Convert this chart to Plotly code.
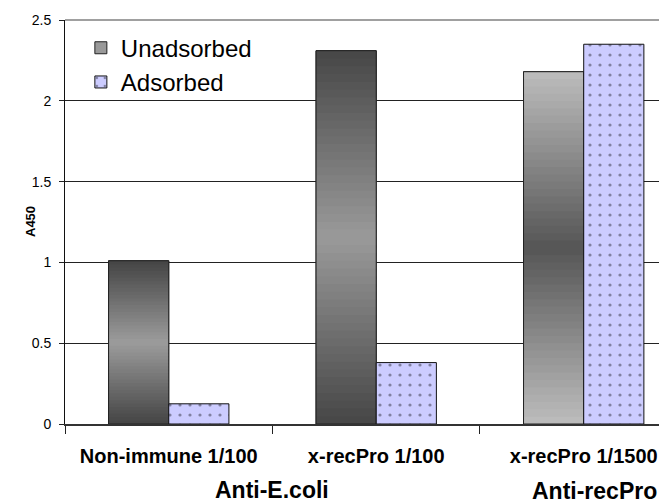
import plotly.graph_objects as go

# ---- data ----
categories = ["Non-immune 1/100", "x-recPro 1/100", "x-recPro 1/1500"]
unadsorbed = [1.01, 2.31, 2.18]
adsorbed = [0.125, 0.38, 2.35]
series_names = ["Unadsorbed", "Adsorbed"]
group_labels = ["Anti-E.coli", "Anti-recPro"]
y_title = "A450"
y_ticks = [0, 0.5, 1, 1.5, 2, 2.5]

# ---- styles ----
FONT = "Liberation Sans, Arial, sans-serif"
edge_colors = [(0x44, 0x44, 0x44), (0x46, 0x46, 0x46), (0xbd, 0xbd, 0xbd)]
mid_colors = [(0x9c, 0x9c, 0x9c), (0x9a, 0x9a, 0x9a), (0x55, 0x55, 0x55)]
N_SEG = 48


def mix(c1, c2, t):
    return "rgb(%d,%d,%d)" % tuple(round(a + (b - a) * t) for a, b in zip(c1, c2))


fig = go.Figure()

# legend / base trace for Unadsorbed
fig.add_trace(go.Bar(
    x=categories, y=unadsorbed, name=series_names[0], offsetgroup="u",
    legendgroup="u",
    marker=dict(color="#999999", line=dict(color="#222222", width=1)),
))

# gradient fill: split each Unadsorbed bar into thin slices
seg_x, seg_y, seg_base, seg_col = [], [], [], []
for ci, (cat, v) in enumerate(zip(categories, unadsorbed)):
    for i in range(N_SEG):
        t = abs((i + 0.5) - N_SEG / 2) / (N_SEG / 2)
        seg_x.append(cat)
        seg_y.append(v / N_SEG * 1.6 if i < N_SEG - 1 else v / N_SEG)
        seg_base.append(v * i / N_SEG)
        seg_col.append(mix(mid_colors[ci], edge_colors[ci], t))
fig.add_trace(go.Bar(
    x=seg_x, y=seg_y, base=seg_base, offsetgroup="u", showlegend=False,
    hoverinfo="skip", marker=dict(color=seg_col, line=dict(width=0)),
))

# outline on top
fig.add_trace(go.Bar(
    x=categories, y=unadsorbed, offsetgroup="u", showlegend=False,
    hoverinfo="skip",
    marker=dict(color="rgba(0,0,0,0)", line=dict(color="#222222", width=1)),
))

fig.add_trace(go.Bar(
    x=categories, y=adsorbed, name=series_names[1], offsetgroup="a",
    legendgroup="a",
    marker=dict(color="#ccccff", line=dict(color="#111111", width=1),
                pattern=dict(shape=".", fgcolor="#333344", bgcolor="#ccccff",
                             size=10, solidity=0.08, fillmode="overlay")),
))

fig.update_layout(
    width=667, height=503,
    margin=dict(l=57, r=0, t=12, b=87),
    paper_bgcolor="white", plot_bgcolor="white",
    barmode="group", bargap=0.42, bargroupgap=0,
    font=dict(family=FONT, color="black"),
    showlegend=True,
    legend=dict(x=0.026, y=0.986, xanchor="left", yanchor="top",
                bgcolor="rgba(0,0,0,0)", font=dict(size=24, color="black"),
                traceorder="grouped", tracegroupgap=0),
    xaxis=dict(
        range=[-0.5, 2.44], type="category",
        tickson="boundaries", ticks="outside", ticklen=8, tickcolor="#222",
        showline=True, linecolor="#333333", linewidth=1.5,
        showgrid=False, ticklabelstandoff=13,
        tickfont=dict(size=20, weight="bold", color="black"),
    ),
    yaxis=dict(
        range=[0, 2.5], tickvals=y_ticks, ticktext=[f"{v:g}" for v in y_ticks],
        ticks="outside", ticklen=5, tickcolor="#222",
        showline=True, linecolor="#111111", linewidth=1,
        showgrid=True, gridcolor="#222222", gridwidth=1, zeroline=False,
        tickfont=dict(size=14, color="black"), ticklabelstandoff=5,
    ),
    shapes=[dict(type="line", xref="paper", yref="paper", x0=0, x1=1, y0=1, y1=1,
                 line=dict(color="#808080", width=1.5), layer="above")],
    annotations=[
        dict(text=y_title, textangle=-90, xref="paper", x=0, xshift=-35,
             xanchor="center", yref="paper", y=0.5, yanchor="middle",
             showarrow=False,
             font=dict(size=13, weight="bold", color="black")),
        dict(text=group_labels[0], xref="x", x=0.5, yref="paper", y=0,
             yshift=-66, yanchor="middle", showarrow=False,
             font=dict(size=23, weight="bold", color="black")),
        dict(text=group_labels[1], xref="x", x=2.05, yref="paper", y=0,
             yshift=-67, yanchor="middle", showarrow=False,
             font=dict(size=23, weight="bold", color="black")),
    ],
)

fig.write_html("out.html")
